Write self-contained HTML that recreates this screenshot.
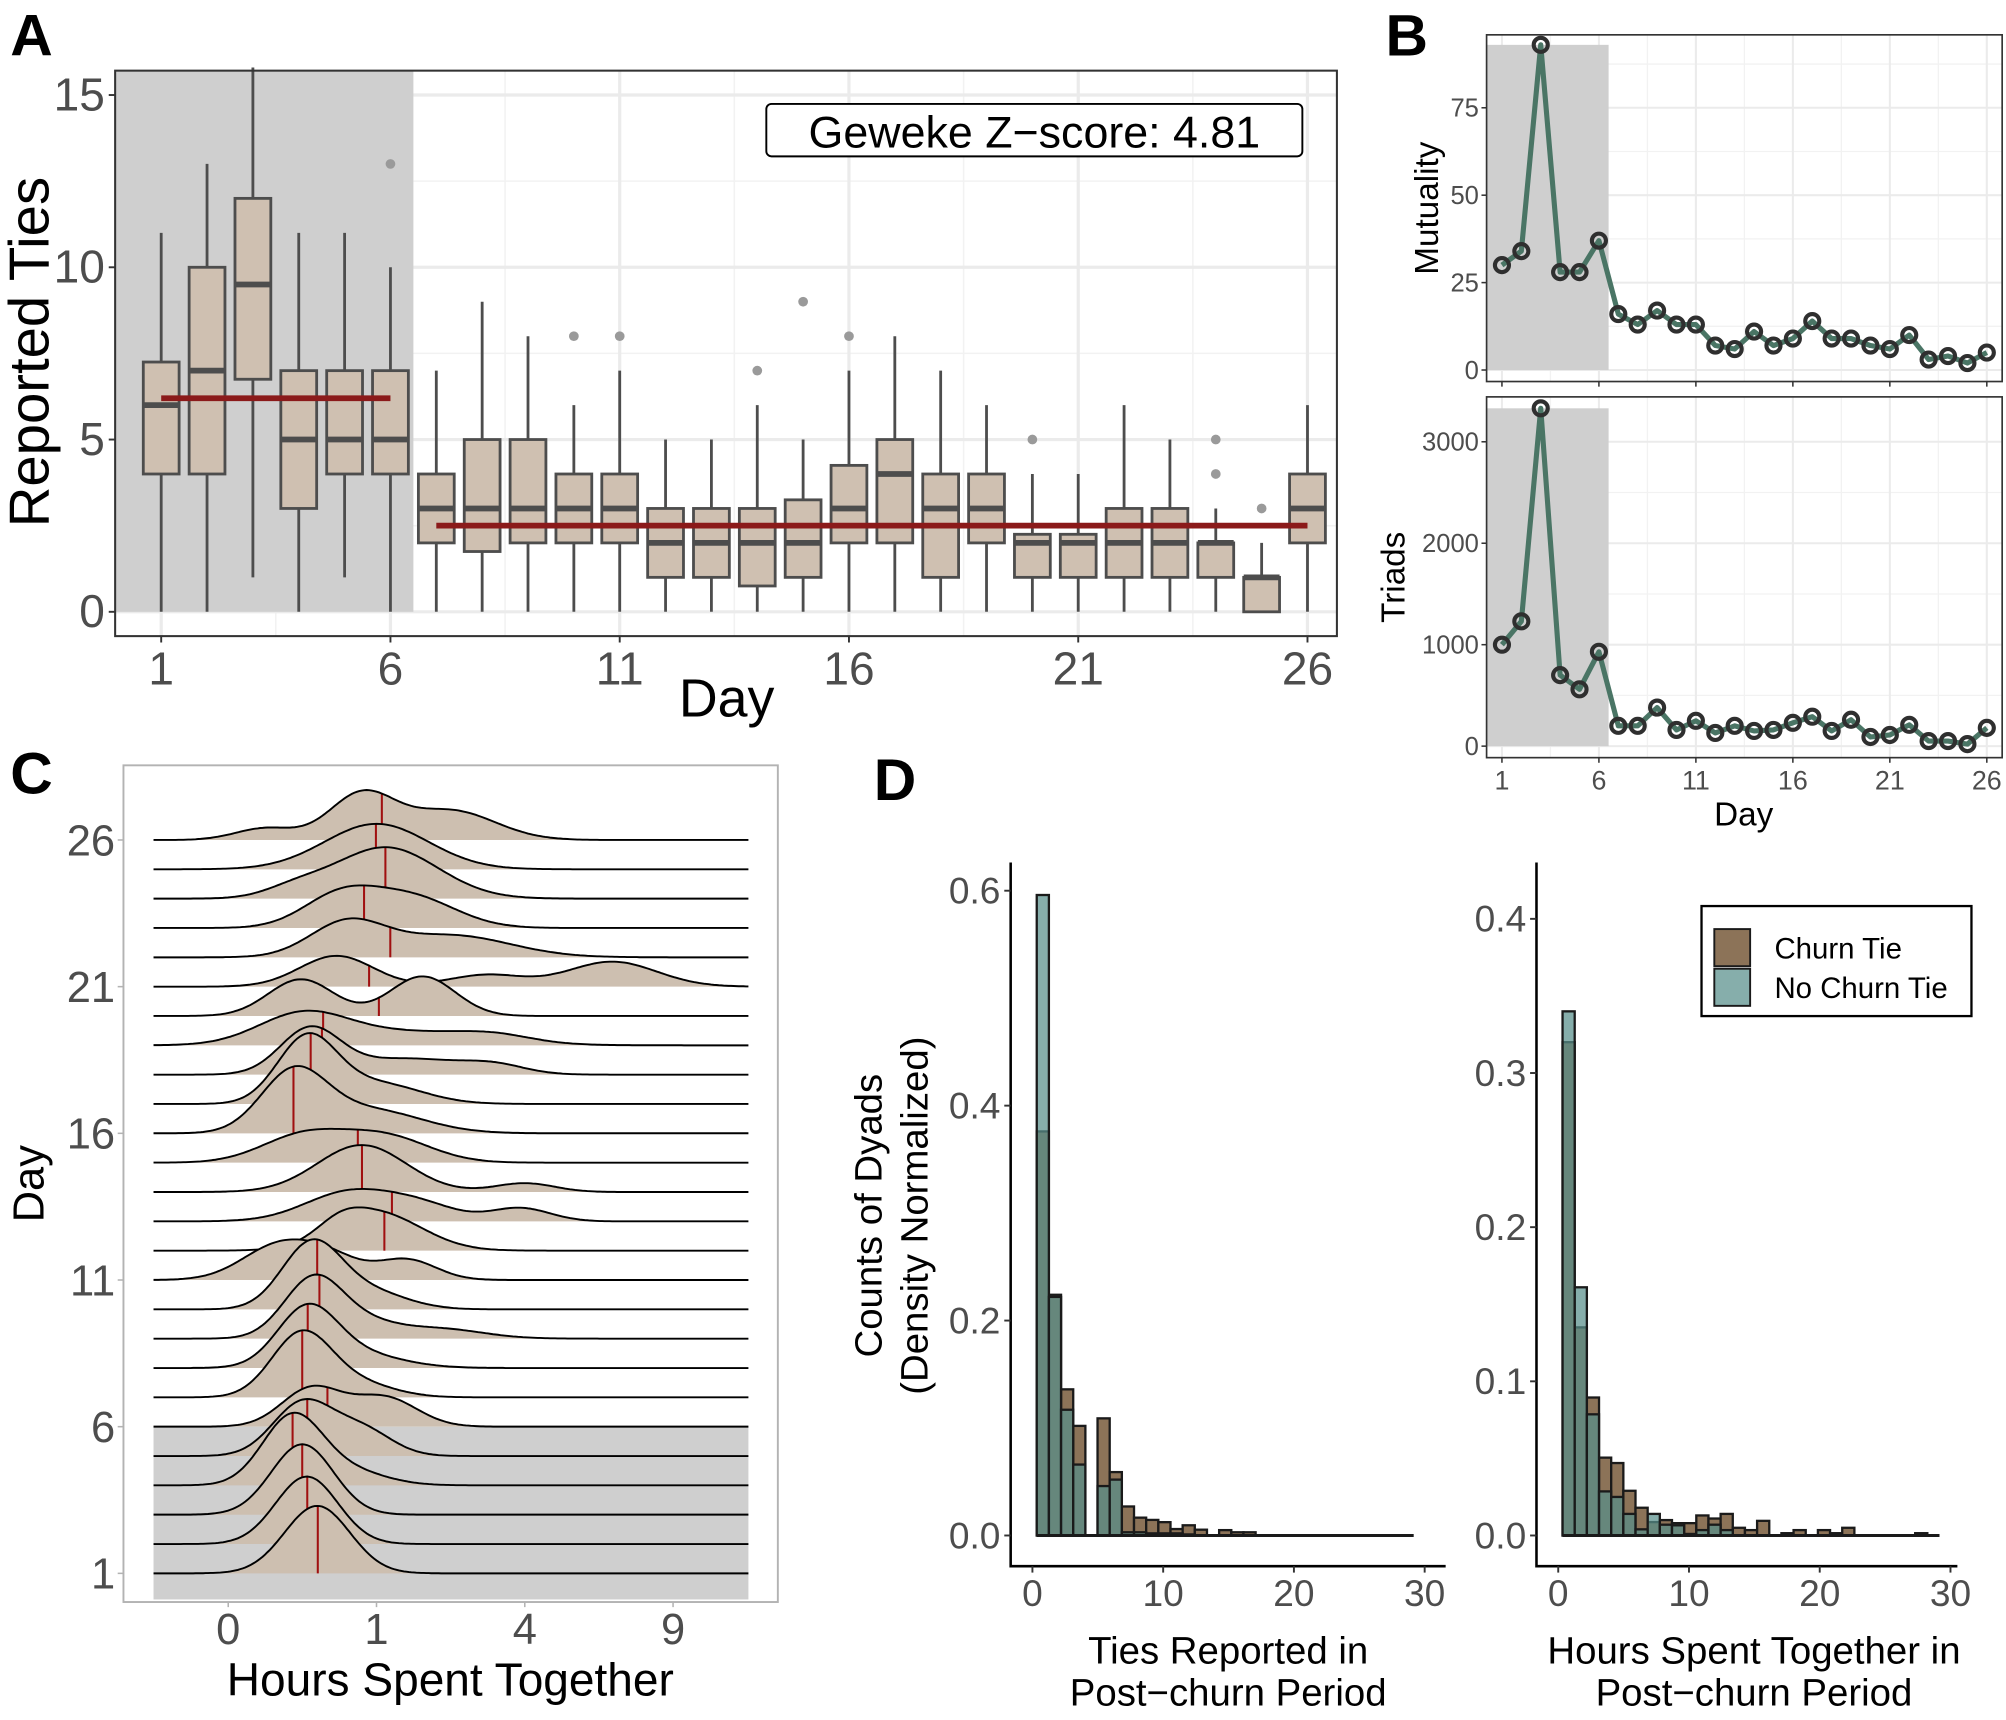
<!DOCTYPE html>
<html><head><meta charset="utf-8">
<style>
html,body{margin:0;padding:0;background:#fff;}
svg{display:block;font-family:"Liberation Sans",Arial,sans-serif;}
</style></head>
<body>
<svg id="fig" xmlns="http://www.w3.org/2000/svg" width="2006" height="1720" viewBox="0 0 1568 1344">
<rect x="0" y="0" width="1568" height="1344" fill="#fff"/>
</svg>
<script>
// ---------- Panel A data ----------
const aDays=[1,2,3,4,5,6,7,8,9,10,11,12,13,14,15,16,17,18,19,20,21,22,23,24,25,26];
const aQ1=[4,4,6.75,3,4,4,2,1.75,2,2,2,1,1,0.75,1,2,2,1,2,1,1,1,1,1,0,2];
const aMed=[6,7,9.5,5,5,5,3,3,3,3,3,2,2,2,2,3,4,3,3,2,2,2,2,2,1,3];
const aQ3=[7.25,10,12,7,7,7,4,5,5,4,4,3,3,3,3.25,4.25,5,4,4,2.25,2.25,3,3,2,1,4];
const aLo=[0,0,1,0,1,0,0,0,0,0,0,0,0,0,0,0,0,0,0,0,0,0,0,0,0,0];
const aHi=[11,13,16,11,11,10,7,9,8,6,7,5,5,6,5,7,8,7,6,4,4,6,5,3,2,6];
const aOutDay=[6,10,11,14,15,16,20,24,24,25];
const aOutVal=[13,8,8,7,9,8,5,4,5,3];
const aMeanPre=6.2, aMeanPost=2.5;
const aYTicks=[0,5,10,15];
const aXTicks=[1,6,11,16,21,26];
// ---------- Panel B data ----------
const bMutuality=[30,34,93,28,28,37,16,13,17,13,13,7,6,11,7,9,14,9,9,7,6,10,3,4,2,5];
const bTriads=[1000,1230,3330,700,560,930,200,200,380,160,250,130,200,150,160,230,290,150,260,90,110,210,50,50,20,180];
const bMutTicks=[0,25,50,75];
const bTriTicks=[0,1000,2000,3000];
// ---------- Panel C data (density components per day: center in sqrt-hours, sd, height) ----------
const cCenters=[[0.60],[0.53],[0.50],[0.43,0.8],[0.50,0.9],[0.56,1.05],[0.49,0.85],[0.53,0.85],[0.58,0.95,1.4],[0.56,0.95],[0.35,0.7,1.2],[0.75,1.0],[0.82,1.3,1.97],[0.9,2.0],[0.5,1.05],[0.44,0.95],[0.53,1.0],[0.55,1.2,1.8],[0.5,1.2,1.8],[0.49,1.31],[0.73,1.74,2.59],[0.8,1.5],[0.75,1.23],[0.45,1.06],[1.0],[0.25,0.9,1.5]];
const cSds=[[0.22],[0.21],[0.21],[0.2,0.25],[0.2,0.2],[0.2,0.22],[0.2,0.25],[0.2,0.3],[0.2,0.2,0.3],[0.2,0.25],[0.25,0.2,0.2],[0.15,0.3],[0.3,0.25,0.2],[0.3,0.2],[0.28,0.3],[0.22,0.35],[0.2,0.3],[0.2,0.4,0.2],[0.3,0.5,0.25],[0.22,0.22],[0.25,0.25,0.3],[0.25,0.4],[0.25,0.3],[0.2,0.35],[0.35],[0.2,0.22,0.3]];
const cHeights=[[2.3],[2.3],[2.4],[2.3,0.5],[1.8,0.9],[1.3,1.0],[2.1,0.5],[1.9,0.5],[2.1,0.4,0.35],[2.2,0.6],[1.2,0.6,0.7],[0.4,1.3],[1.0,0.5,0.45],[1.6,0.3],[0.9,0.9],[2.0,0.8],[2.2,0.7],[1.5,0.55,0.25],[1.0,0.45,0.22],[1.25,1.35],[1.05,0.4,0.85],[1.15,0.75],[1.05,1.05],[0.3,1.75],[1.55],[0.4,1.55,1.0]];
const cMedians=[0.604,0.533,0.499,0.434,0.533,0.669,0.499,0.536,0.615,0.6,0.6,1.053,1.104,0.902,0.874,0.44,0.556,0.632,0.64,1.016,0.95,1.093,0.916,1.06,0.996,1.036];
const cDayTicks=[1,6,11,16,21,26];
const cXTickLabels=["0","1","4","9"];
const cXTickVals=[0,1,4,9];
// ---------- Panel D data ----------
const dBinStart=0.33, dBinWidth=0.93;
const dTiesChurn=[0.376,0.224,0.136,0.102,0,0.109,0.059,0.027,0.0166,0.0145,0.0124,0.006,0.0095,0.0054,0,0.005,0.003,0.003,0,0,0,0,0,0,0,0,0,0,0,0,0];
const dTiesNoChurn=[0.596,0.222,0.117,0.066,0,0.046,0.052,0.003,0.003,0.002,0.002,0.002,0.001,0,0,0,0,0,0,0,0,0,0,0,0,0,0,0,0,0,0];
const dHoursChurn=[0.320,0.135,0.0895,0.0505,0.047,0.029,0.018,0.0087,0.010,0.008,0.008,0.013,0.011,0.014,0.005,0.0035,0.0095,0,0.0015,0.0035,0,0.0035,0.0015,0.005,0,0,0,0,0,0.0015,0];
const dHoursNoChurn=[0.340,0.161,0.0786,0.0286,0.025,0.014,0.004,0.014,0.007,0.0066,0.001,0.0035,0.007,0.0035,0,0,0,0,0,0,0,0,0,0,0,0,0,0,0,0,0];
const dLeftYTicks=[0,0.2,0.4,0.6];
const dRightYTicks=[0,0.1,0.2,0.3,0.4];
const dXTicks=[0,10,20,30];

const NS="http://www.w3.org/2000/svg";
const svg=document.getElementById('fig');
function mk(tag,attrs,parent){const e=document.createElementNS(NS,tag);for(const k in attrs)e.setAttribute(k,attrs[k]);(parent||svg).appendChild(e);return e;}
function txt(x,y,s,size,anchor,fill,extra){const t=mk('text',Object.assign({x:x,y:y,'font-size':size,'text-anchor':anchor||'start',fill:fill||'#000'},extra||{}));t.textContent=s;return t;}
let el;

// ================= PANEL A =================
const xA=d=>126+(d-1)*35.84;
const yA=v=>478-v*26.93;
const gA=mk('g',{});


for(let v=2.5;v<=15;v+=5){el=mk('line',{x1:90,x2:1045,y1:yA(v),y2:yA(v),stroke:'#f2f2f2','stroke-width':1.2},gA);
}
for(let d=3.5;d<26;d+=5){el=mk('line',{x1:xA(d),x2:xA(d),y1:55,y2:497,stroke:'#f2f2f2','stroke-width':1.2},gA);
}
aYTicks.forEach(v=>{el=mk('line',{x1:90,x2:1045,y1:yA(v),y2:yA(v),stroke:'#ebebeb','stroke-width':2.5},gA);
});
aXTicks.forEach(d=>{el=mk('line',{x1:xA(d),x2:xA(d),y1:55,y2:497,stroke:'#ebebeb','stroke-width':2.5},gA);
});
el=mk('rect',{x:90,y:55,width:xA(6.5)-90,height:yA(0)-55,fill:'#cfcfcf'},gA);

aDays.forEach((d,i)=>{
  const g=mk('g',{},gA);
  
  
  const cx=xA(d),hw=14;
  mk('line',{x1:cx,x2:cx,y1:yA(aLo[i]),y2:yA(Math.min(aHi[i],15.8)),stroke:'#4d4d4d','stroke-width':2.2},g);
  mk('rect',{x:cx-hw,y:yA(aQ3[i]),width:2*hw,height:yA(aQ1[i])-yA(aQ3[i]),fill:'#cfc0b1',stroke:'#4d4d4d','stroke-width':2.2},g);
  mk('line',{x1:cx-hw,x2:cx+hw,y1:yA(aMed[i]),y2:yA(aMed[i]),stroke:'#4d4d4d','stroke-width':4.5},g);
});
aOutDay.forEach((d,i)=>{el=mk('circle',{cx:xA(d),cy:yA(aOutVal[i]),r:3.8,fill:'#9a9a9a'},gA);
});
el=mk('line',{x1:xA(1),x2:xA(6),y1:yA(aMeanPre),y2:yA(aMeanPre),stroke:'#8b1a1a','stroke-width':4.5},gA);

el=mk('line',{x1:xA(7),x2:xA(26),y1:yA(aMeanPost),y2:yA(aMeanPost),stroke:'#8b1a1a','stroke-width':4.5},gA);

el=mk('rect',{x:90,y:55,width:955,height:442,fill:'none',stroke:'#333','stroke-width':1.6},gA);

aYTicks.forEach(v=>{mk('line',{x1:85,x2:90,y1:yA(v),y2:yA(v),stroke:'#333','stroke-width':1.5},gA);
el=txt(82,yA(v)+12,String(v),36,'end','#4d4d4d');});
aXTicks.forEach(d=>{mk('line',{x1:xA(d),x2:xA(d),y1:497,y2:502,stroke:'#333','stroke-width':1.5},gA);
el=txt(xA(d),535,String(d),36,'middle','#4d4d4d');});
el=txt(568,560,'Day',42,'middle','#000');
el=txt(0,0,'Reported Ties',44,'middle','#000',{transform:'translate(38,275) rotate(-90)'});
el=mk('rect',{x:599,y:81,width:419,height:41,rx:4,fill:'#fff',stroke:'#000','stroke-width':1.5},gA);

el=txt(808.5,115,'Geweke Z\u2212score: 4.81',35,'middle','#000');

// ================= PANEL B =================
const xB=d=>1174+(d-1)*15.16;
function linePanel(name,vals,ticks,top,bot,y0,scale,title,titleX){
  const g=mk('g',{});
  
  
  const y=v=>y0-v*scale;
  const step=ticks[1]-ticks[0];
  for(let v=step/2;y(v)>top;v+=step){mk('line',{x1:1162,x2:1565,y1:y(v),y2:y(v),stroke:'#f2f2f2','stroke-width':1},g);}
  for(let d=3.5;d<26;d+=5){mk('line',{x1:xB(d),x2:xB(d),y1:top,y2:bot,stroke:'#f2f2f2','stroke-width':1},g);}
  ticks.forEach(v=>mk('line',{x1:1162,x2:1565,y1:y(v),y2:y(v),stroke:'#ebebeb','stroke-width':1.6},g));
  aXTicks.forEach(d=>mk('line',{x1:xB(d),x2:xB(d),y1:top,y2:bot,stroke:'#ebebeb','stroke-width':1.6},g));
  el=mk('rect',{x:1162,y:y(Math.max(...vals)),width:xB(6.5)-1162,height:y(0)-y(Math.max(...vals)),fill:'#cfcfcf'},g);
  
  el=mk('polyline',{points:vals.map((v,i)=>xB(i+1)+','+y(v)).join(' '),fill:'none',stroke:'#4a7565','stroke-width':4,'stroke-linejoin':'round'},g);
  
  vals.forEach((v,i)=>{el=mk('circle',{cx:xB(i+1),cy:y(v),r:5.5,fill:'none',stroke:'#2f2f2f','stroke-width':3.2},g);
  });
  el=mk('rect',{x:1162,y:top,width:403,height:bot-top,fill:'none',stroke:'#333','stroke-width':1.3},g);
  
  ticks.forEach(v=>{mk('line',{x1:1158,x2:1162,y1:y(v),y2:y(v),stroke:'#333','stroke-width':1.2},g);
  el=txt(1156,y(v)+7,String(v),20,'end','#4d4d4d');});
  aXTicks.forEach(d=>mk('line',{x1:xB(d),x2:xB(d),y1:bot,y2:bot+4,stroke:'#333','stroke-width':1.2},g));
  el=txt(0,0,title,26,'middle','#000',{transform:'translate('+titleX+','+((top+bot)/2)+') rotate(-90)'});
  
}
linePanel('b-mutuality',bMutuality,bMutTicks,27,298,289,2.733,'Mutuality',1124);
linePanel('b-triads',bTriads,bTriTicks,310,592,583,0.0793,'Triads',1098);
aXTicks.forEach(d=>{el=txt(xB(d),617,String(d),21,'middle','#4d4d4d');});
el=txt(1363,645,'Day',26,'middle','#000');

// ================= PANEL C =================
const xC=s=>178.4+s*115.9;
const yBase=d=>1229.6-(d-1)*22.93;
const cScale=22.93;
const gC=mk('g',{});


el=mk('rect',{x:120,y:yBase(6),width:465,height:1250-yBase(6),fill:'#cfcfcf'},gC);

function dens(i,s){let t=0;cCenters[i].forEach((c,k)=>{const z=(s-c)/cSds[i][k];t+=cHeights[i][k]*Math.exp(-0.5*z*z);});return t;}
const sMin=(120-178.4)/115.9, sMax=(585-178.4)/115.9;
for(let i=25;i>=0;i--){
  const d=i+1,b=yBase(d);
  const g=mk('g',{},gC);
  
  
  const pts=[];
  for(let k=0;k<=240;k++){const s=sMin+(sMax-sMin)*k/240;pts.push([xC(s),b-dens(i,s)*cScale]);}
  const ps=pts.map(p=>p[0].toFixed(1)+','+p[1].toFixed(1)).join(' ');
  mk('polygon',{points:xC(sMin)+','+b+' '+ps+' '+xC(sMax)+','+b,fill:'#cdbfb0',stroke:'none'},g);
  const m=cMedians[i];
  mk('line',{x1:xC(m),x2:xC(m),y1:b,y2:b-dens(i,m)*cScale,stroke:'#a01010','stroke-width':1.6},g);
  mk('polyline',{points:ps,fill:'none',stroke:'#000','stroke-width':1.5},g);
}
el=mk('rect',{x:96.5,y:598,width:511.5,height:654,fill:'none',stroke:'#b3b3b3','stroke-width':1.5},gC);

cDayTicks.forEach(d=>{mk('line',{x1:92,x2:96.5,y1:yBase(d),y2:yBase(d),stroke:'#b3b3b3','stroke-width':1.2},gC);
el=txt(90,yBase(d)+12,String(d),34,'end','#4d4d4d');});
cXTickVals.forEach((v,i)=>{const x=xC(Math.sqrt(v));mk('line',{x1:x,x2:x,y1:1252,y2:1256,stroke:'#b3b3b3','stroke-width':1.2},gC);
el=txt(x,1285,cXTickLabels[i],34,'middle','#4d4d4d');});
el=txt(352,1325,'Hours Spent Together',36,'middle','#000');
el=txt(0,0,'Day',34,'middle','#000',{transform:'translate(34,925) rotate(-90)'});

// ================= PANEL D =================
function histPanel(name,churn,noChurn,ticks,axX,x0,xEnd,yScale){
  const g=mk('g',{});
  
  
  const xs=v=>x0+v*10.22, ys=p=>1200-p*yScale;
  churn.forEach((p,k)=>{const xl=xs(dBinStart+k*dBinWidth),w=dBinWidth*10.22;
    el=mk('rect',{x:xl,y:ys(p),width:w,height:1200-ys(p),fill:'#8c7358',stroke:'#1a1a1a','stroke-width':1.8},g);
    });
  noChurn.forEach((p,k)=>{const xl=xs(dBinStart+k*dBinWidth),w=dBinWidth*10.22;
    el=mk('rect',{x:xl,y:ys(p),width:w,height:1200-ys(p),fill:'rgb(87,143,139)','fill-opacity':0.72,stroke:'#1a1a1a','stroke-width':1.8},g);
    });
  el=mk('line',{x1:xs(dBinStart),x2:xs(dBinStart+churn.length*dBinWidth),y1:1200,y2:1200,stroke:'#1a1a1a','stroke-width':2.4},g);
  
  el=mk('line',{x1:axX,x2:axX,y1:674,y2:1225,stroke:'#000','stroke-width':2},g);
  
  el=mk('line',{x1:axX,x2:xEnd,y1:1224,y2:1224,stroke:'#000','stroke-width':2},g);
  
  ticks.forEach(v=>{mk('line',{x1:axX-5,x2:axX,y1:ys(v),y2:ys(v),stroke:'#333','stroke-width':1.5},g);
  el=txt(axX-8,ys(v)+10,v.toFixed(1),29,'end','#4d4d4d');});
  dXTicks.forEach(v=>{mk('line',{x1:xs(v),x2:xs(v),y1:1224,y2:1229,stroke:'#333','stroke-width':1.5},g);
  el=txt(xs(v),1255,String(v),29,'middle','#4d4d4d');});
}
histPanel('d-ties-hist',dTiesChurn,dTiesNoChurn,dLeftYTicks,790,807,1130,840);
histPanel('d-hours-hist',dHoursChurn,dHoursNoChurn,dRightYTicks,1201,1218,1530,1205);
el=txt(960,1300,'Ties Reported in',30,'middle','#000');
el=txt(960,1333,'Post\u2212churn Period',30,'middle','#000');
el=txt(1371,1300,'Hours Spent Together in',30,'middle','#000');
el=txt(1371,1333,'Post\u2212churn Period',30,'middle','#000');
el=txt(0,0,'Counts of Dyads',30,'middle','#000',{transform:'translate(689,950) rotate(-90)'});
el=txt(0,0,'(Density Normalized)',30,'middle','#000',{transform:'translate(725,950) rotate(-90)'});
const lg=mk('g',{});


mk('rect',{x:1330,y:708,width:211,height:86,fill:'#fff',stroke:'#000','stroke-width':1.8},lg);
el=mk('rect',{x:1340,y:726,width:28,height:29,fill:'#8c7358',stroke:'#1a1a1a','stroke-width':1.5},lg);

el=mk('rect',{x:1340,y:757,width:28,height:29,fill:'#86aeab',stroke:'#1a1a1a','stroke-width':1.5},lg);

el=txt(1387,749,'Churn Tie',23,'start','#000');
el=txt(1387,780,'No Churn Tie',23,'start','#000');

// panel letters
[['A',8,43],['B',1083,43],['C',8,620],['D',683,625]].forEach(p=>{el=txt(p[1],p[2],p[0],46,'start','#000',{'font-weight':'bold'});
});
</script>
</body></html>
